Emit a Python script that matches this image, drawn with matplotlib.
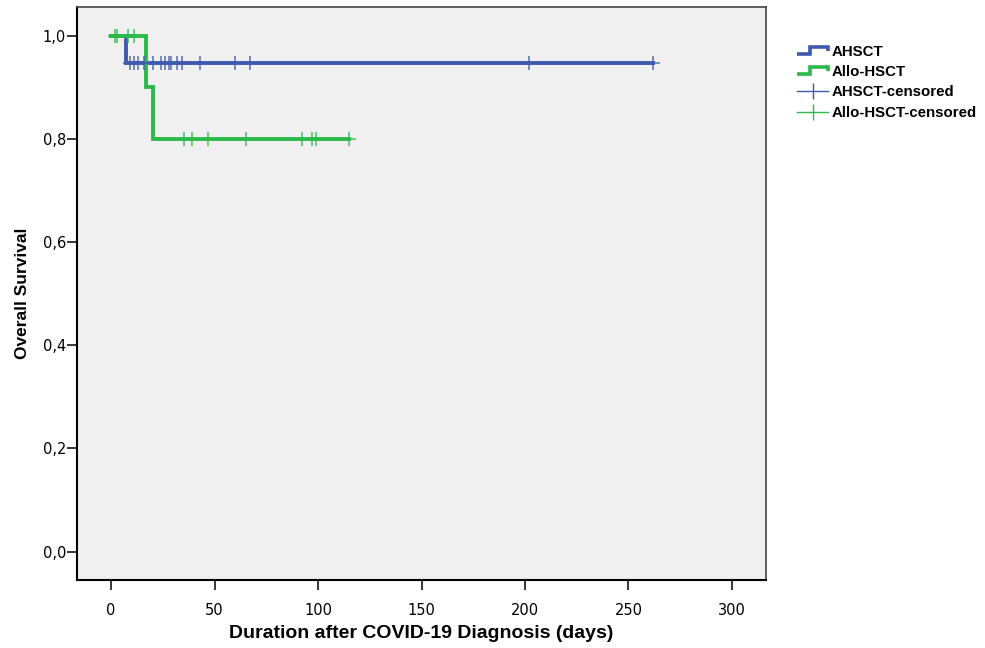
import numpy as np
import matplotlib.pyplot as plt
from matplotlib.lines import Line2D
from matplotlib.legend_handler import HandlerBase
from matplotlib.ticker import FuncFormatter

# survival step data
ahsct_times = [0, 7, 262]
ahsct_surv = [1.0, 0.947, 0.947]
ahsct_censored = [9, 11, 13, 16, 20, 24, 26, 28, 29, 32, 34, 43, 60, 67, 202, 262]

allo_times = [0, 17, 20, 115]
allo_surv = [1.0, 0.9, 0.8, 0.8]
allo_censored_top = [2, 3, 8, 11]
allo_censored_low = [35, 39, 47, 65, 92, 97, 99, 115]

blue = '#3F59AE'
green = '#2DB84B'


def surv_at(times, surv, t):
    # value of the step curve at time t
    idx = np.searchsorted(times, t, side='right') - 1
    return np.array(surv)[idx]


class StepHandler(HandlerBase):
    # little step icon like spss draws
    def create_artists(self, legend, orig_handle, xdescent, ydescent,
                       width, height, fontsize, trans):
        x0 = -xdescent
        y0 = -ydescent
        xs = np.array([0, 0.42, 0.42, 1.0, 1.0]) * width + x0
        ys = np.array([0.2, 0.2, 0.85, 0.85, 0.45]) * height + y0
        line = Line2D(xs, ys, color=orig_handle.get_color(),
                      lw=orig_handle.get_linewidth(), solid_joinstyle='miter',
                      solid_capstyle='butt', transform=trans)
        return [line]


fig = plt.figure(figsize=(9.85, 6.48), dpi=100)
ax = fig.add_axes([0.0782, 0.1049, 0.6995, 0.8838])
ax.set_facecolor('#F0F0F0')

ax.plot(ahsct_times, ahsct_surv, drawstyle='steps-post', color=blue, lw=2.8,
        solid_joinstyle='miter')
ax.plot(allo_times, allo_surv, drawstyle='steps-post', color=green, lw=2.8,
        solid_joinstyle='miter')

ax.plot(ahsct_censored, surv_at(ahsct_times, ahsct_surv, ahsct_censored),
        ls='none', marker='+', ms=10, mew=1.2, color=blue, alpha=0.8)
allo_c = allo_censored_top + allo_censored_low
ax.plot(allo_c, surv_at(allo_times, allo_surv, allo_c),
        ls='none', marker='+', ms=10, mew=1.2, color=green, alpha=0.8)

ax.set_xlim(-16.5, 316.5)
ax.set_ylim(-0.055, 1.055)
ax.set_xticks([0, 50, 100, 150, 200, 250, 300])
ax.set_yticks([0, 0.2, 0.4, 0.6, 0.8, 1.0])
ax.yaxis.set_major_formatter(FuncFormatter(lambda v, p: f'{v:.1f}'.replace('.', ',')))
ax.tick_params(axis='both', direction='out', length=7.5, width=1.1,
               labelsize=10.5, top=False, right=False, colors='black')
for lab in ax.get_xticklabels() + ax.get_yticklabels():
    lab.set_fontfamily('DejaVu Sans')
ax.tick_params(axis='x', pad=9)
ax.tick_params(axis='y', pad=0.5)

for s in ['left', 'bottom']:
    ax.spines[s].set_linewidth(1.5)
    ax.spines[s].set_color('black')
for s in ['top', 'right']:
    ax.spines[s].set_linewidth(1.2)
    ax.spines[s].set_color('#444444')

ax.set_xlabel('Duration after COVID-19 Diagnosis (days)', fontsize=14,
              fontweight='bold', family='Liberation Sans', labelpad=5)
ax.set_ylabel('Overall Survival', fontsize=12.5, fontweight='bold',
              family='Liberation Sans', labelpad=9)

# legend
h1 = Line2D([], [], color=blue, lw=2.6)
h2 = Line2D([], [], color=green, lw=2.6)
h3 = Line2D([], [], color=blue, lw=1.0, marker='|', ms=11, mew=1.0)
h4 = Line2D([], [], color=green, lw=1.0, marker='|', ms=11, mew=1.0)
leg = fig.legend([h1, h2, h3, h4],
                 ['AHSCT', 'Allo-HSCT', 'AHSCT-censored', 'Allo-HSCT-censored'],
                 handler_map={h1: StepHandler(), h2: StepHandler()},
                 loc='upper left', bbox_to_anchor=(0.803, 0.94),
                 frameon=False, handlelength=2.1, handletextpad=0.2,
                 labelspacing=0.42, borderaxespad=0,
                 prop={'family': 'Liberation Sans', 'weight': 'bold', 'size': 10.8})

fig.savefig('out.png', dpi=100)
